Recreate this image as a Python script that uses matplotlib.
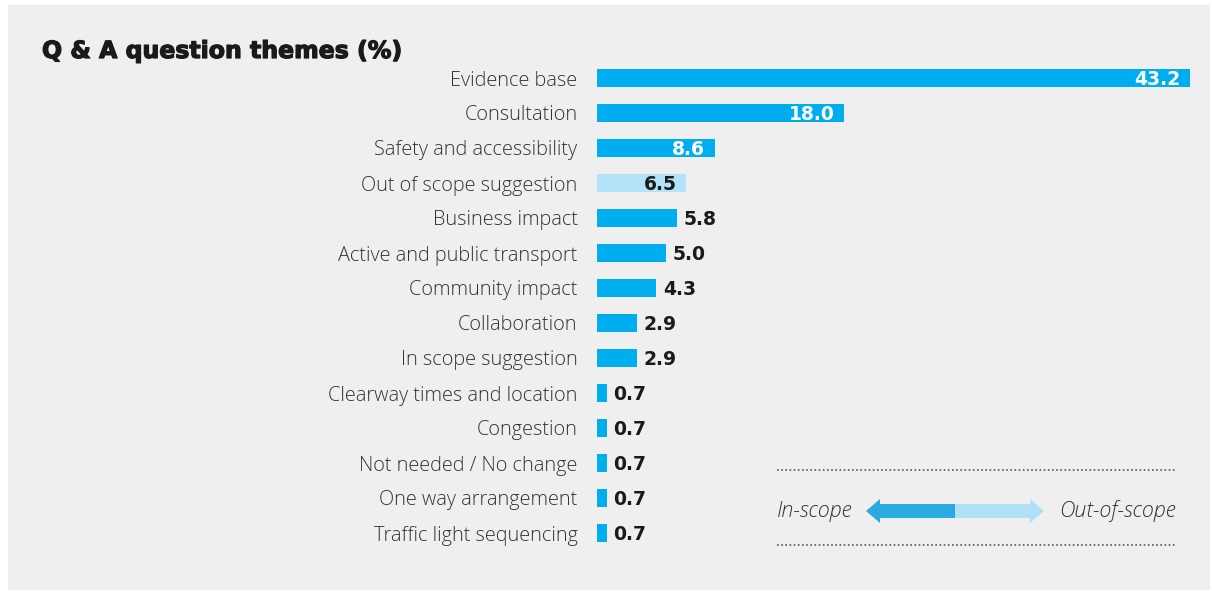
import matplotlib
matplotlib.use("Agg")
import matplotlib.pyplot as plt
import matplotlib.patheffects as pe
from matplotlib.patches import Rectangle, Polygon

# Q & A themes, top to bottom
themes = ["Evidence base", "Consultation", "Safety and accessibility",
          "Out of scope suggestion", "Business impact", "Active and public transport",
          "Community impact", "Collaboration", "In scope suggestion",
          "Clearway times and location", "Congestion", "Not needed / No change",
          "One way arrangement", "Traffic light sequencing"]
shares = [43.2, 18.0, 8.6, 6.5, 5.8, 5.0, 4.3, 2.9, 2.9, 0.7, 0.7, 0.7, 0.7, 0.7]
in_scope = [True, True, True, False, True, True, True, True, True,
            True, True, True, True, True]

BLUE = "#00aeef"
LIGHT = "#b3e3f8"
TEXT = "#333333"
W, H = 1212, 591

fig = plt.figure(figsize=(W / 100, H / 100), dpi=100)
fig.patch.set_facecolor("white")

# background layer in pixel units
bg = fig.add_axes([0, 0, 1, 1])
bg.set_xlim(0, W)
bg.set_ylim(H, 0)
bg.axis("off")
bg.add_patch(Rectangle((8, 5), 1202, 585, facecolor="#efefef", edgecolor="none"))
bg.text(42, 51, "Q & A question themes (%)", fontsize=17, fontweight="bold",
        family="DejaVu Sans", color="#1a1a1a", va="center", ha="left",
        path_effects=[pe.withStroke(linewidth=0.9, foreground="#1a1a1a")])

# legend: dotted rules, two-tone arrow
for yy in (470, 545):
    bg.plot([777, 1175], [yy, yy], color="#555555", linestyle=(0, (1, 1.5)), linewidth=1.2)
bg.text(777, 511, "In-scope", style="italic", fontsize=15.5, fontweight="light",
        color=TEXT, family="Open Sans", va="center", ha="left")
bg.text(1176, 511, "Out-of-scope", style="italic", fontsize=15.5, fontweight="light",
        color=TEXT, family="Open Sans", va="center", ha="right")
bg.add_patch(Polygon([(866, 511), (880, 499), (880, 504), (955, 504), (955, 518),
                      (880, 518), (880, 523)], closed=True, facecolor="#29abe2", edgecolor="none"))
bg.add_patch(Polygon([(955, 504), (1030, 504), (1030, 499), (1044, 511), (1030, 523),
                      (1030, 518), (955, 518)], closed=True, facecolor="#b0e0f5", edgecolor="none"))

# bar chart
ax = fig.add_axes([597 / W, 1 - 550.5 / H, 593 / W, 490 / H])
ax.patch.set_alpha(0)
ypos = list(range(len(themes)))
colors = [BLUE if s else LIGHT for s in in_scope]
ax.barh(ypos, shares, height=0.5, color=colors, edgecolor="none")
ax.set_xlim(0, 43.2)
ax.set_ylim(len(themes) - 0.5, -0.5)
ax.set_yticks(ypos)
ax.set_yticklabels(themes, fontsize=14.3, color=TEXT, family="Open Sans",
                   fontweight="light")
ax.tick_params(axis="y", length=0, pad=14)
ax.set_xticks([])
for sp in ax.spines.values():
    sp.set_visible(False)

for y, v, s in zip(ypos, shares, in_scope):
    if v > 6:
        col = "white" if s else "#1a1a1a"
        ax.annotate(f"{v:.1f}", (v, y + 0.05), xytext=(-7, 0), textcoords="offset points",
                    ha="right", va="center", fontsize=13.5, fontweight="bold",
                    color=col, family="DejaVu Sans")
    else:
        ax.annotate(f"{v:.1f}", (v, y + 0.05), xytext=(5, 0), textcoords="offset points",
                    ha="left", va="center", fontsize=13.5, fontweight="bold",
                    color="#1a1a1a", family="DejaVu Sans")

fig.savefig("out.png", dpi=100, facecolor=fig.get_facecolor())
